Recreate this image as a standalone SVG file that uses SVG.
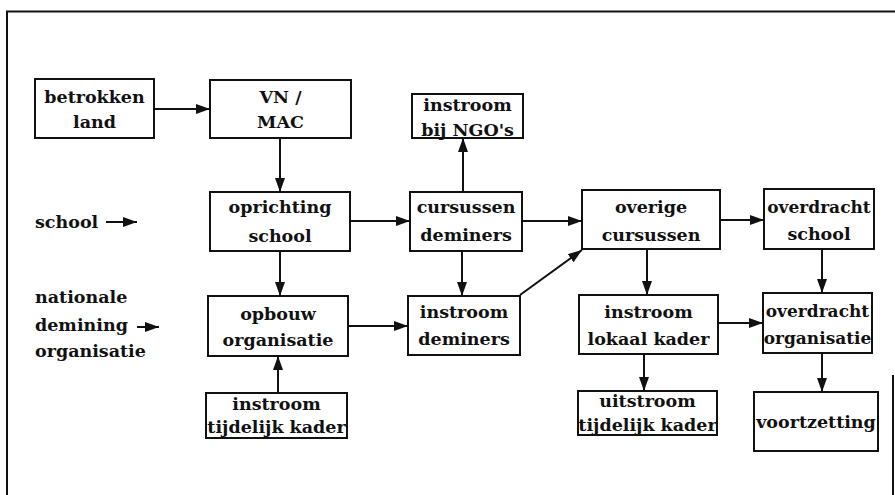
<svg xmlns="http://www.w3.org/2000/svg" width="895" height="495" viewBox="0 0 895 495">
<defs>
<marker id="ah" viewBox="0 0 14 10" refX="14" refY="5" markerWidth="14" markerHeight="10" markerUnits="userSpaceOnUse" orient="auto">
<path d="M0,0 L14,5 L0,10 Z" fill="#111"/>
</marker>
</defs>
<style>
.box{fill:#fff;stroke:#111;stroke-width:2}
.t{font-family:"DejaVu Serif","Liberation Serif",serif;font-weight:bold;font-size:17.5px;fill:#111;text-anchor:middle}
.n{font-size:17px}
.l{font-family:"DejaVu Serif","Liberation Serif",serif;font-weight:bold;font-size:17.5px;fill:#111}
.c{stroke:#111;stroke-width:2;fill:none;marker-end:url(#ah)}
.f{stroke:#111;stroke-width:2;fill:none}
</style>
<rect width="895" height="495" fill="#fff"/>
<g id="frame">
<path class="f" d="M7,495 L7,11.5 L895,11.5"/>
<path class="f" d="M893,375 L893,495"/>
</g>
<g id="connectors">
<line class="c" x1="154" y1="109" x2="210" y2="109"/>
<line class="c" x1="280" y1="138" x2="280" y2="192"/>
<line class="c" x1="350" y1="221" x2="410" y2="221"/>
<line class="c" x1="463" y1="192" x2="463" y2="138"/>
<line class="c" x1="522" y1="221" x2="582" y2="221"/>
<line class="c" x1="720" y1="220" x2="764" y2="220"/>
<line class="c" x1="280" y1="251" x2="280" y2="296"/>
<line class="c" x1="462" y1="251" x2="462" y2="296"/>
<line class="c" x1="348" y1="326" x2="408" y2="326"/>
<line class="c" x1="278" y1="393" x2="278" y2="356"/>
<line class="c" x1="520" y1="295" x2="582" y2="250"/>
<line class="c" x1="647" y1="249" x2="647" y2="295"/>
<line class="c" x1="822" y1="249" x2="822" y2="293"/>
<line class="c" x1="718" y1="323" x2="763" y2="323"/>
<line class="c" x1="644" y1="354" x2="644" y2="391"/>
<line class="c" x1="822" y1="353" x2="822" y2="392"/>
<line class="c" x1="106" y1="222" x2="137" y2="222"/>
<line class="c" x1="137" y1="327" x2="159" y2="327"/>
</g>
<g id="label-school"><text class="l" x="35" y="228">school</text></g>
<g id="label-nationale">
<text class="l" x="35" y="303">nationale</text>
<text class="l" x="35" y="331">demining</text>
<text class="l" x="35" y="357">organisatie</text>
</g>
<g id="betrokken-land">
<rect class="box" x="35" y="79" width="119" height="59"/>
<text class="t" x="94.5" y="103">betrokken</text>
<text class="t" x="94.5" y="128">land</text>
</g>
<g id="vn-mac">
<rect class="box" x="210" y="80" width="141" height="58"/>
<text class="t" x="280.5" y="103">VN /</text>
<text class="t" x="280.5" y="128">MAC</text>
</g>
<g id="instroom-ngo">
<rect class="box" x="412" y="94" width="111" height="44"/>
<text class="t" x="467.5" y="111">instroom</text>
<text class="t" x="467.5" y="136">bij NGO's</text>
</g>
<g id="oprichting-school">
<rect class="box" x="210" y="192" width="140" height="59"/>
<text class="t" x="280" y="213">oprichting</text>
<text class="t" x="280" y="242">school</text>
</g>
<g id="cursussen-deminers">
<rect class="box" x="410" y="192" width="112" height="59"/>
<text class="t" x="466" y="213">cursussen</text>
<text class="t" x="466" y="241">deminers</text>
</g>
<g id="overige-cursussen">
<rect class="box" x="582" y="190" width="138" height="59"/>
<text class="t" x="651" y="213">overige</text>
<text class="t" x="651" y="241">cursussen</text>
</g>
<g id="overdracht-school">
<rect class="box" x="764" y="189" width="110" height="60"/>
<text class="t n" x="819" y="213">overdracht</text>
<text class="t" x="819" y="240">school</text>
</g>
<g id="opbouw-organisatie">
<rect class="box" x="208" y="296" width="140" height="60"/>
<text class="t" x="278" y="320">opbouw</text>
<text class="t" x="278" y="346">organisatie</text>
</g>
<g id="instroom-deminers">
<rect class="box" x="408" y="296" width="112" height="59"/>
<text class="t" x="464" y="318">instroom</text>
<text class="t" x="464" y="345">deminers</text>
</g>
<g id="instroom-tijdelijk-kader">
<rect class="box" x="206" y="393" width="141" height="45"/>
<text class="t" x="276.5" y="410">instroom</text>
<text class="t" x="276.5" y="433">tijdelijk kader</text>
</g>
<g id="instroom-lokaal-kader">
<rect class="box" x="579" y="295" width="139" height="59"/>
<text class="t" x="648.5" y="318">instroom</text>
<text class="t" x="648.5" y="345">lokaal kader</text>
</g>
<g id="overdracht-organisatie">
<rect class="box" x="763" y="293" width="109" height="60"/>
<text class="t n" x="817.5" y="317">overdracht</text>
<text class="t n" x="817.5" y="344">organisatie</text>
</g>
<g id="uitstroom-tijdelijk-kader">
<rect class="box" x="578" y="391" width="139" height="44"/>
<text class="t" x="647.5" y="407">uitstroom</text>
<text class="t" x="647.5" y="431">tijdelijk kader</text>
</g>
<g id="voortzetting">
<rect class="box" x="754" y="392" width="124" height="59"/>
<text class="t" x="816" y="428">voortzetting</text>
</g>
</svg>
